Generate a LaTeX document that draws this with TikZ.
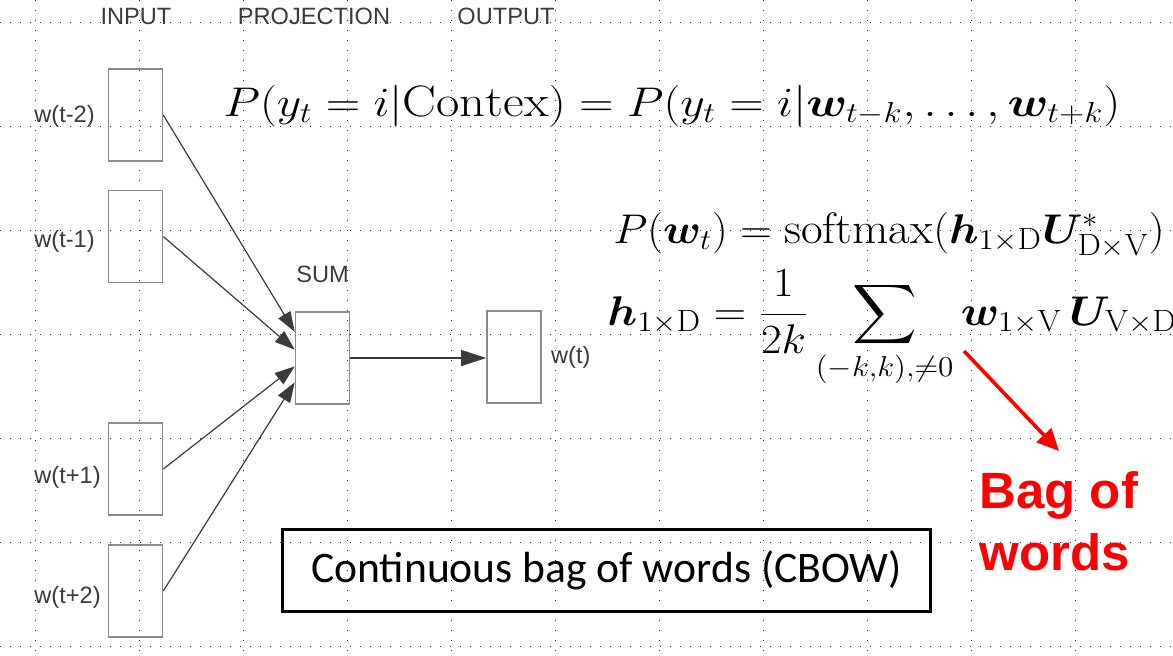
\documentclass[tikz,border=0pt]{standalone}
\usepackage{amsmath}
\usepackage{graphicx}
\usepackage{fontspec}
\usepackage{bm}
\usepackage{tikz}
\usetikzlibrary{arrows.meta, positioning, calc}
\newfontfamily\figfont{Liberation Sans}
\newfontfamily\boxfont{Carlito}
\definecolor{figgray}{HTML}{3A3A3A}
\definecolor{boxgray}{HTML}{8C8C8C}
\definecolor{gridgray}{HTML}{303030}

\begin{document}
\begin{tikzpicture}[x=0.5pt, y=-0.5pt,
        unit/.style={rectangle, draw=boxgray, line width=0.8pt, minimum width=27pt, minimum height=46pt, inner sep=0},
        lbl/.style={font=\figfont\fontsize{11.8}{14}\selectfont, text=figgray, inner sep=0},
        eq/.style={font=\fontsize{22}{26}\selectfont, inner sep=0, anchor=base west},
        arrow/.style={-{Triangle[length=10pt, width=7pt]}, line width=0.6pt, draw=figgray},
        bagarrow/.style={-{Triangle[length=11pt, width=10pt]}, line width=1.8pt, draw=red},
        bag/.style={font=\figfont\bfseries\fontsize{25.5}{31}\selectfont, text=red, align=left, inner sep=0},
        cbow/.style={draw=black, line width=1.5pt, minimum width=324pt, minimum height=41pt, font=\boxfont\fontsize{21.8}{26}\selectfont, inner sep=0},
        gridline/.style={gridgray, line width=0.6pt, dash pattern=on 0.5pt off 4.5pt}]
        \useasboundingbox (0,0) rectangle (1173,655);
        \foreach \gx in {0,...,10}
            \draw[gridline] ({35.6+104*\gx},0) -- ({35.6+104*\gx},655);
        \foreach \gy in {0,...,6}
            \draw[gridline] (0,{22.7+104*\gy}) -- (1173,{22.7+104*\gy});

        \node[lbl, anchor=base] (hin) at (136,24) {INPUT};
        \node[lbl, anchor=base] (hproj) at (314,24) {PROJECTION};
        \node[lbl, anchor=base] (hout) at (506,24) {OUTPUT};

        \node[unit] (in1) at (135.5,115) {};
        \node[unit] (in2) at (135.5,236.5) {};
        \node[unit] (in3) at (135.5,469) {};
        \node[unit] (in4) at (135.5,591) {};
        \node[unit] (sum) at (322.5,358) {};
        \node[unit] (out) at (514,357) {};

        \node[lbl, anchor=west] (lin1) at (34,116) {w(t-2)};
        \node[lbl, anchor=west] (lin2) at (34,241) {w(t-1)};
        \node[lbl, anchor=west] (lin3) at (34,477) {w(t+1)};
        \node[lbl, anchor=west] (lin4) at (34,597) {w(t+2)};
        \node[lbl, above=14pt of sum] (lsum) {SUM};
        \node[lbl, right=4.5pt of out] (lout) {w(t)};

        \draw[arrow] (in1.east) -- ($(sum.north west)!0.22!(sum.south west)$);
        \draw[arrow] (in2.east) -- ($(sum.north west)!0.41!(sum.south west)$);
        \draw[arrow] (in3.east) -- ($(sum.north west)!0.59!(sum.south west)$);
        \draw[arrow] (in4.east) -- ($(sum.north west)!0.76!(sum.south west)$);
        \draw[arrow, -{Triangle[length=12.5pt, width=8pt]}] (sum.east) -- (sum.east -| out.west);

        \node[eq] (ctx) at (223,116) {\scalebox{1.152}[1]{$P(y_t = i|\mathrm{Contex}) = P(y_t = i|\bm{w}_{t-k},\ldots,\bm{w}_{t+k})$}};
        \node[eq] (soft) at (613,243) {\scalebox{1.07}[1]{$P(\bm{w}_t) = \mathrm{softmax}(\bm{h}_{1\times\mathrm{D}}\bm{U}^{*}_{\mathrm{D}\times\mathrm{V}})$}};
        \node[eq] (hid) at (607,325) {\scalebox{1.08}[1]{$\displaystyle \bm{h}_{1\times\mathrm{D}} = \frac{1}{2k}\sum_{(-k,k),\neq 0}\bm{w}_{1\times\mathrm{V}}\,\bm{U}_{\mathrm{V}\times\mathrm{D}}$}};

        \coordinate (bagtail) at (964,351);
        \coordinate (baghead) at (1059,451);
        \draw[bagarrow] (bagtail) -- (baghead);
        \node[bag, anchor=north west] (bag) at (979,471) {Bag of\\words};

        \node[cbow] (title) at (606.5,570.5) {Continuous bag of words (CBOW)};
    \end{tikzpicture}
\end{document}
